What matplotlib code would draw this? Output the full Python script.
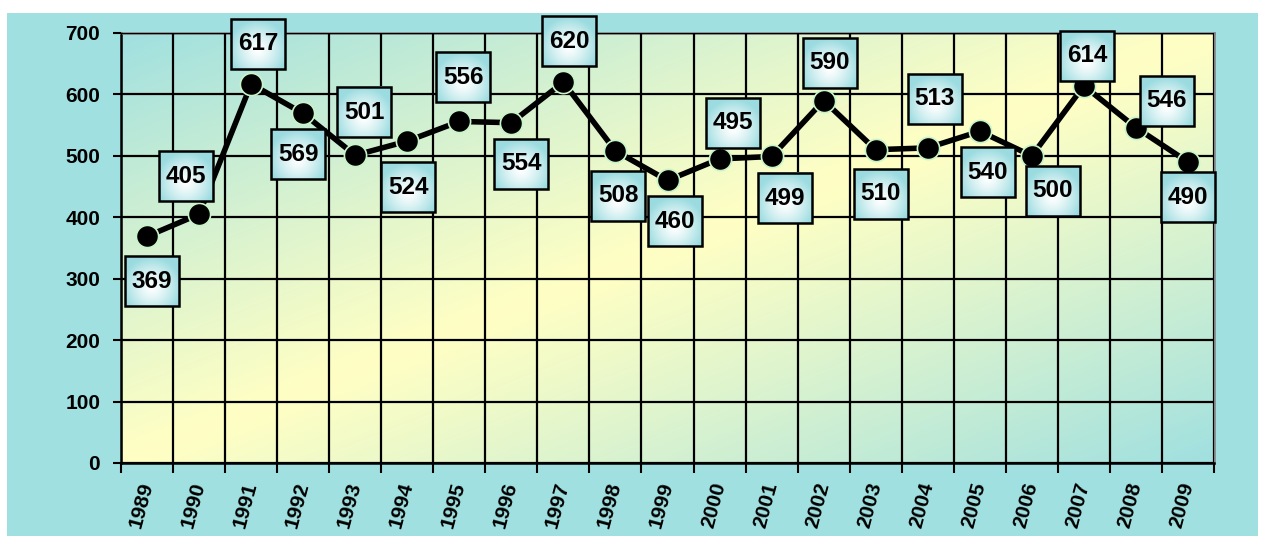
import numpy as np
import matplotlib.pyplot as plt
from matplotlib.patches import Rectangle

years = [str(y) for y in range(1989, 2010)]
values = [369, 405, 617, 569, 501, 524, 556, 554, 620, 508, 460,
          495, 499, 590, 510, 513, 540, 500, 614, 546, 490]

# label box offsets in pixels (dx, dy up) from the point
label_off = [(5, -45), (-13, 38), (7, 40), (-5, -41), (9, 43), (1, -46),
             (4, 44), (10, -41), (6, 41), (3, -45), (7, -41), (13, 36),
             (13, -42), (6, 38), (5, -44), (7, 49), (8, -41), (21, -35),
             (3, 30), (31, 27), (0, -35)]

cyan = np.array([0xA0, 0xE0, 0xE0]) / 255
yellow = np.array([0xFF, 0xFF, 0xC4]) / 255
box_cyan = np.array([0x9C, 0xDC, 0xE0]) / 255

plt.rcParams['font.family'] = ['Liberation Sans', 'DejaVu Sans']
fig = plt.figure(figsize=(12.65, 5.36), dpi=100)
fig.patch.set_facecolor('white')
fig.patches.append(Rectangle((7 / 1265, 0), 1251 / 1265, 523 / 536,
                             transform=fig.transFigure, facecolor=cyan,
                             edgecolor='none', zorder=-5))

ax = fig.add_axes([121 / 1265, 73 / 536, 1093 / 1265, 430 / 536])
ax.set_facecolor('none')

n = len(years)
x = np.arange(n)
ax.set_xlim(-0.5, n - 0.5)
ax.set_ylim(0, 700)

# diagonal gradient background
u, v = np.meshgrid(np.linspace(0, 1, 300), np.linspace(1, 0, 200))
t = np.clip(np.abs(u - v) ** 1.1, 0, 1)[..., None]
img = yellow * (1 - t) + cyan * t
ax.imshow(img, extent=[0, 1, 0, 1], transform=ax.transAxes,
          aspect='auto', zorder=0)

ax.set_xticks(x)
ax.set_xticklabels(years, rotation=75, fontsize=15, fontweight='bold',
                   ha='right', va='center', rotation_mode='anchor')
ax.set_xticks(np.arange(-0.5, n), minor=True)
ax.tick_params(axis='x', which='major', length=0, pad=14)
ax.tick_params(axis='x', which='minor', length=7, width=1.5, color='black')
ax.set_yticks(range(0, 701, 100))
ax.tick_params(axis='y', length=6, width=1.5, labelsize=15, pad=9)
for lb in ax.get_yticklabels():
    lb.set_fontweight('bold')

ax.grid(True, which='minor', axis='x', color='black', linewidth=1.6, zorder=1)
ax.grid(True, which='major', axis='y', color='black', linewidth=1.6, zorder=1)
ax.set_axisbelow(False)

for s in ['left', 'bottom']:
    ax.spines[s].set_color('black')
    ax.spines[s].set_linewidth(1.8)
for s in ['top', 'right']:
    ax.spines[s].set_color('#808080')
    ax.spines[s].set_linewidth(1.8)

ax.plot(x, values, color='black', linewidth=4, marker='o', markersize=16,
        markerfacecolor='black', markeredgecolor='#c8f5c8',
        markeredgewidth=1.2, zorder=3)

# radial-gradient label boxes
bw, bh = 54, 50
gy, gx = np.mgrid[0:1:50j, 0:1:54j]
r = np.sqrt(((gx - 0.5) / 0.55) ** 2 + ((gy - 0.62) / 0.6) ** 2)
r = np.clip(r, 0, 1) ** 1.3
box_img = (1 - r)[..., None] * np.ones(3) + r[..., None] * box_cyan

inv = ax.transData.inverted()
for xi, val, (dx, dy) in zip(x, values, label_off):
    px, py = ax.transData.transform((xi, val))
    cx, cy = px + dx, py + dy
    (x0, y0) = inv.transform((cx - bw / 2, cy - bh / 2))
    (x1, y1) = inv.transform((cx + bw / 2, cy + bh / 2))
    im = ax.imshow(box_img, extent=[x0, x1, y0, y1], origin='upper',
                   aspect='auto', zorder=5)
    im.set_clip_on(False)
    ax.add_patch(Rectangle((x0, y0), x1 - x0, y1 - y0, facecolor='none',
                           edgecolor='black', linewidth=1.8, zorder=6,
                           clip_on=False))
    ax.text((x0 + x1) / 2, (y0 + y1) / 2, str(val), ha='center',
            va='center', fontsize=17.5, fontweight='bold', zorder=7)

ax.set_xlim(-0.5, n - 0.5)
ax.set_ylim(0, 700)

fig.savefig('out.png', dpi=100)
